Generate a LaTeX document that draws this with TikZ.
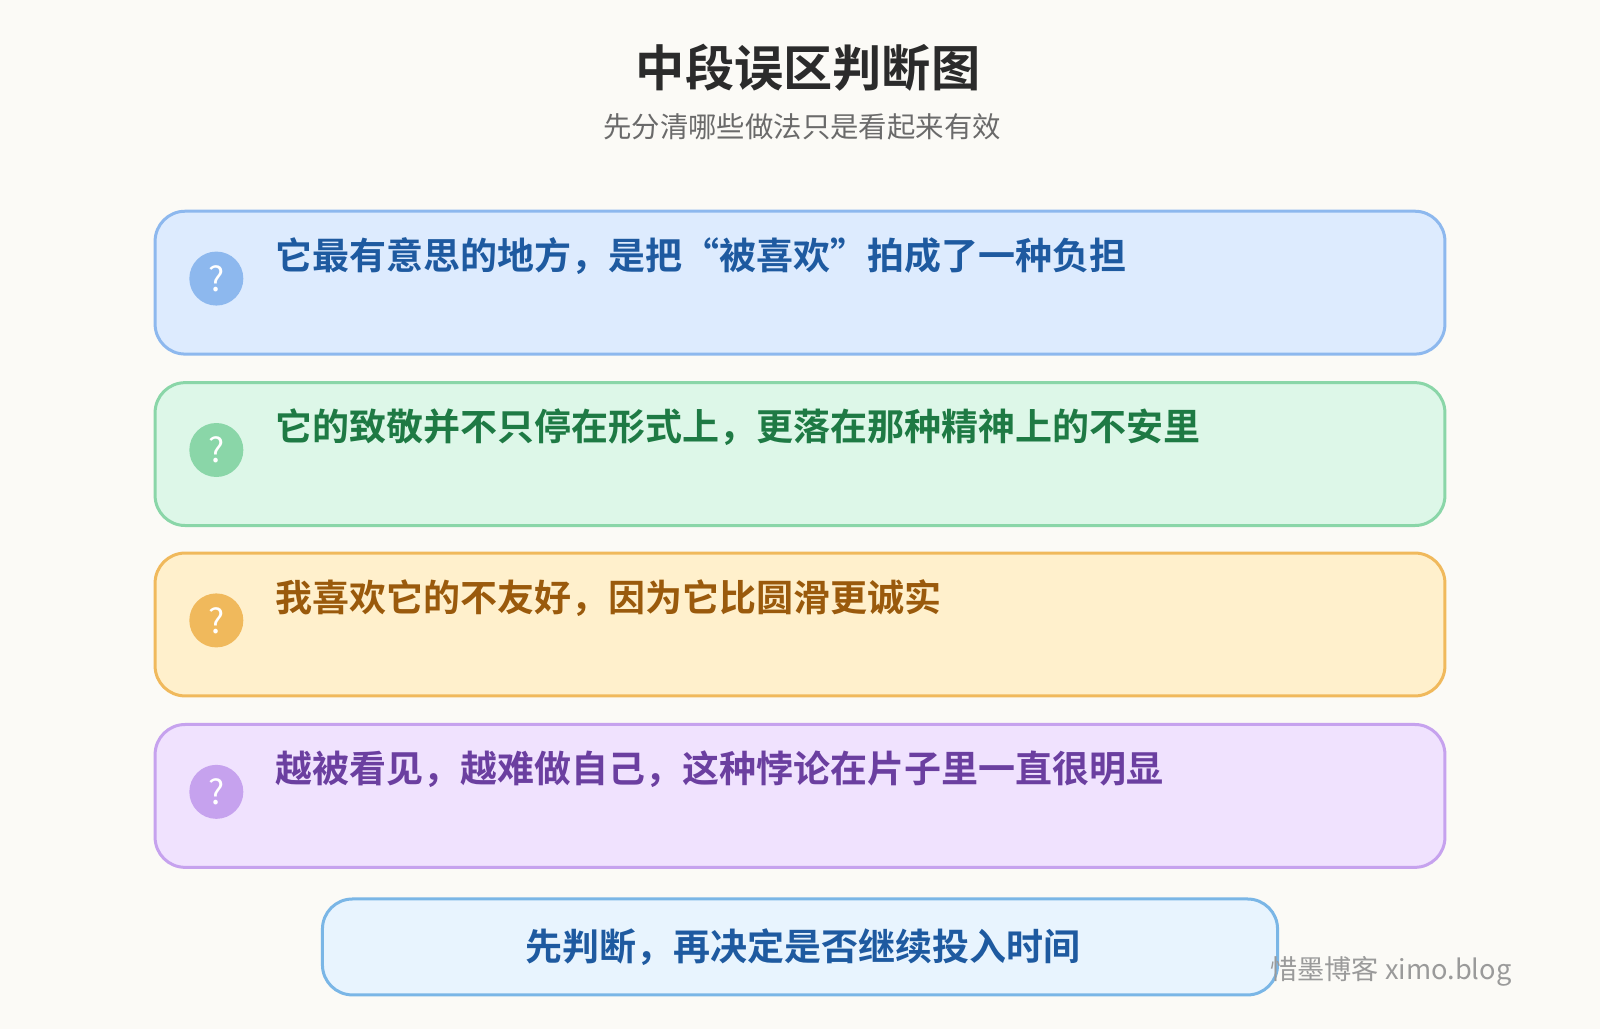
\documentclass[tikz,border=0pt]{standalone}
\usepackage{fontspec}
\setmainfont{Noto Sans CJK SC}
\newfontfamily\cjkb{Noto Sans CJK SC Bold}
\definecolor{bg}{HTML}{FBFAF6}
\definecolor{bfill}{HTML}{DDEBFE}\definecolor{bline}{HTML}{8DB8EE}\definecolor{btext}{HTML}{1E5AA0}
\definecolor{gfill}{HTML}{DDF7E8}\definecolor{gline}{HTML}{8AD6A8}\definecolor{gtext}{HTML}{1E7A44}
\definecolor{ofill}{HTML}{FFF0CC}\definecolor{oline}{HTML}{F0B95C}\definecolor{otext}{HTML}{9A5A0C}
\definecolor{pfill}{HTML}{F0E2FE}\definecolor{pline}{HTML}{C6A2EE}\definecolor{ptext}{HTML}{6B3FA0}
\definecolor{nfill}{HTML}{E8F4FE}\definecolor{nline}{HTML}{7AB6E6}
\tikzset{
 card/.style={draw=#1, line width=1.5pt, rounded corners=15pt},
 qmark/.style={circle, fill=#1, minimum size=27pt, inner sep=0pt, text=white, font=\fontsize{17}{17}\selectfont},
 ctext/.style={anchor=west, text=#1, font=\cjkb\fontsize{18.5}{18.5}\selectfont, inner sep=0pt}
}
\begin{document}
\begin{tikzpicture}[x=0.5102pt,y=-0.5102pt]
\fill[bg] (0,0) rectangle (1568,1008);
\useasboundingbox (0,0) rectangle (1568,1008);
\node (title) at (792,66) {\cjkb\fontsize{24.6}{25}\selectfont\color[HTML]{2B2B2B}中段误区判断图};
\node (sub) at (786,124) {\fontsize{14.2}{15}\selectfont\color[HTML]{6A6A6A}先分清哪些做法只是看起来有效};
\foreach \y/\c/\t [count=\i] in {207/b/它最有意思的地方，是把“被喜欢”拍成了一种负担,
 375/g/它的致敬并不只停在形式上，更落在那种精神上的不安里,
 542/o/我喜欢它的不友好，因为它比圆滑更诚实,
 710/p/越被看见，越难做自己，这种悖论在片子里一直很明显}{
 \filldraw[card=\c line, fill=\c fill] (152,\y) rectangle (1416,\y+140);
 \node[qmark=\c line] (q\i) at (212,\y+66) {?};
 \node[ctext=\c text] (t\i) at (270,\y+44) {\t};
}
\filldraw[card=nline, fill=nfill] (316,881) rectangle (1252,975);
\node (note) at (787,928) {\cjkb\fontsize{18.5}{18.5}\selectfont\color{btext}先判断，再决定是否继续投入时间};
\node (wm) at (1363,952) {\fontsize{13.6}{14}\selectfont\color[HTML]{9A9A9A}惜墨博客 ximo.blog};
\end{tikzpicture}
\end{document}
